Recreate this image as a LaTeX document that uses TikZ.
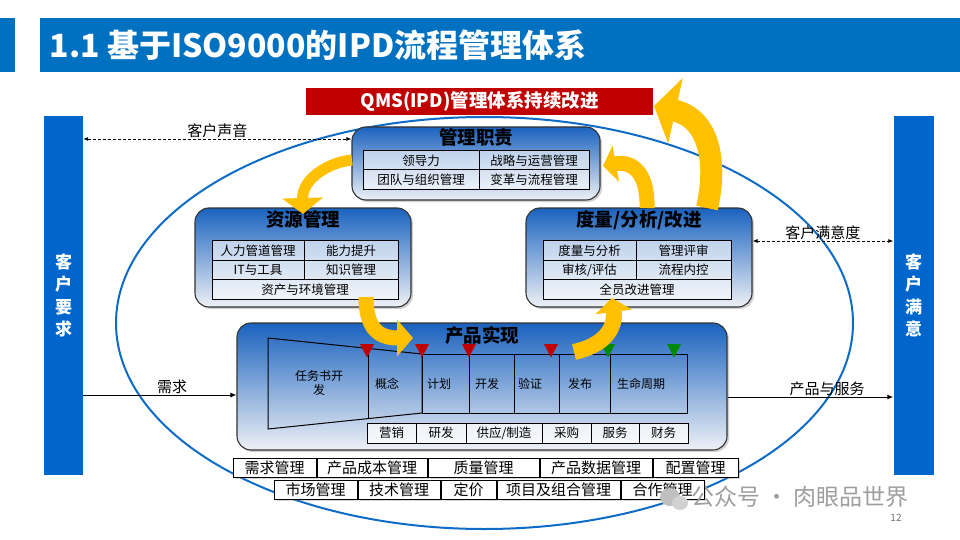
\documentclass[tikz,border=0pt]{standalone}
\usepackage{fontspec}
\setmainfont{Noto Sans CJK SC}
\usepackage{tikz}
\usetikzlibrary{arrows.meta,positioning,shadows}

\definecolor{titleblue}{HTML}{0070C0}
\definecolor{colblue}{HTML}{0066CC}
\definecolor{ringblue}{HTML}{0F6CC6}
\definecolor{boxtop}{HTML}{1A62BE}
\definecolor{boxbot}{HTML}{EEF1F6}
\definecolor{bannerred}{HTML}{C00000}
\definecolor{flowyellow}{HTML}{FFC000}
\definecolor{gatered}{HTML}{C00000}
\definecolor{gategreen}{HTML}{008A00}

\tikzset{
  bluebox/.style={draw=black!80, line width=1.1pt, rounded corners=14pt,
    top color=boxtop, bottom color=boxbot,
    drop shadow={opacity=0.35, shadow xshift=2pt, shadow yshift=-2pt}},
  boxtitle/.style={font=\fontsize{18.5}{20}\selectfont\bfseries},
  cell/.style={draw=black, line width=1pt, fill=white, fill opacity=0.6,
    text opacity=1, inner sep=0pt, minimum height=19.5pt},
  mgmtcell/.style={draw=black, line width=1pt, fill=white, inner sep=0pt,
    minimum height=19pt, font=\fontsize{15}{17}\selectfont,
    drop shadow={opacity=0.3, shadow xshift=1.5pt, shadow yshift=-1.5pt}},
  sidecol/.style={fill=colblue, text=white, align=center, inner sep=0pt,
    minimum width=39pt, minimum height=359pt,
    font=\fontsize{17}{22.5}\selectfont\bfseries},
  infoarrow/.style={line width=0.8pt, dash pattern=on 3pt off 2pt,
    {Latex[length=5pt,width=4pt]}-{Latex[length=5pt,width=4pt]}},
  flowarrow/.style={line width=1pt, -{Latex[length=6pt,width=5pt]}},
  armlabel/.style={font=\fontsize{15}{17}\selectfont, inner sep=1pt},
  yarrow/.style={draw=flowyellow},
  stage/.style={anchor=west, font=\fontsize{12}{14}\selectfont}
}

\begin{document}
\begin{tikzpicture}[x=1pt, y=-1pt, font=\fontsize{12.5}{15}\selectfont]
        \fill[white] (0,0) rectangle (960,540);
        \useasboundingbox (0,0) rectangle (960,540);

        % Title bar
        \node[fill=titleblue, minimum width=15pt, minimum height=54pt,
              inner sep=0pt] (tab) at (7.5,45) {};
        \node[fill=titleblue, minimum width=920pt, minimum height=54pt,
              inner sep=0pt] (titlebar) at (500,45) {};
        \node[anchor=west, text=white, font=\fontsize{32}{36}\selectfont\bfseries]
              (title) at (46,45) {1.1 基于ISO9000的IPD流程管理体系};

        % Banner
        \node[fill=bannerred, text=white, minimum width=347pt, minimum height=27pt,
              inner sep=0pt, font=\fontsize{18.5}{20}\selectfont\bfseries]
              (banner) at (479.5,101.5) {QMS(IPD)管理体系持续改进};

        % Customer columns
        \node[sidecol] (lcol) at (63.5,295.5) {客\\户\\要\\求};
        \node[sidecol, minimum width=40pt] (rcol) at (913.5,295.5) {客\\户\\满\\意};

        % Ring
        \draw[ringblue, line width=2pt] (484.5,323) ellipse [x radius=368.5, y radius=206];

        % Management responsibility
        \node[bluebox, minimum width=248pt, minimum height=73pt] (mgmt) at (476,163.5) {};
        \node[boxtitle, below=-1pt of mgmt.north] (mgmtT) {管理职责};
        \node[cell, minimum width=116pt, minimum height=19pt] (lead) at (421,160.5) {领导力};
        \node[cell, minimum width=110pt, minimum height=19pt] (strat) at (534,160.5) {战略与运营管理};
        \node[cell, minimum width=116pt, minimum height=19pt] (team) at (421,179.5) {团队与组织管理};
        \node[cell, minimum width=110pt, minimum height=19pt] (change) at (534,179.5) {变革与流程管理};

        % Resource management
        \node[bluebox, minimum width=216pt, minimum height=99pt] (res) at (303,257.5) {};
        \node[boxtitle, below=0pt of res.north] (resT) {资源管理};
        \node[cell, minimum width=92pt] (talent) at (258,250.5) {人力管道管理};
        \node[cell, minimum width=94pt] (skill) at (351,250.5) {能力提升};
        \node[cell, minimum width=92pt] (ittool) at (258,270) {IT与工具};
        \node[cell, minimum width=94pt] (know) at (351,270) {知识管理};
        \node[cell, minimum width=186pt] (asset) at (305,289.5) {资产与环境管理};

        % Measurement / analysis / improvement
        \node[bluebox, minimum width=226pt, minimum height=99pt] (meas) at (639,257.5) {};
        \node[boxtitle, below=0pt of meas.north] (measT) {度量/分析/改进};
        \node[cell, minimum width=93pt] (anal) at (589.5,250.5) {度量与分析};
        \node[cell, minimum width=95pt] (review) at (683.5,250.5) {管理评审};
        \node[cell, minimum width=93pt] (audit) at (589.5,270) {审核/评估};
        \node[cell, minimum width=95pt] (ictrl) at (683.5,270) {流程内控};
        \node[cell, minimum width=188pt] (allimp) at (637,289.5) {全员改进管理};

        % Product realisation
        \node[bluebox, minimum width=490pt, minimum height=127pt] (prod) at (482,386.5) {};
        \node[boxtitle, below=0pt of prod.north] (prodT) {产品实现};
        \draw[line width=1pt] (268,338) -- (422,354) -- (422,413) -- (268,429) -- cycle;
        \draw[line width=1pt] (368,348.4) -- (368,418.6);
        \draw[line width=1pt] (422,354) rectangle (687,413);
        \foreach \sx in {469,514,559,610}
            \draw[line width=1pt] (\sx,354) -- (\sx,413);
        \node[align=center, font=\fontsize{12}{14}\selectfont] (task) at (319,383) {任务书开\\发};
        \node[stage] (concept) at (371.7,384) {概念};
        \node[stage] (plan) at (423.7,384) {计划};
        \node[stage] (devel) at (471.7,384) {开发};
        \node[stage] (verify) at (514.7,384) {验证};
        \node[stage] (launch) at (564.7,384) {发布};
        \node[stage] (life) at (613.7,384) {生命周期};
        % Gates
        \foreach \gx/\gc in {367/gatered, 422/gatered, 469/gatered, 551/gatered,
                             608/gategreen, 674/gategreen}
            \fill[\gc] (\gx-7,344) -- (\gx+7,344) -- (\gx,357.5) -- cycle;
        % Functions
        \node[cell, fill opacity=0.7, minimum width=49pt, minimum height=20pt] (mkt) at (391.5,433) {营销};
        \node[cell, fill opacity=0.7, minimum width=50pt, minimum height=20pt] (rnd) at (441,433) {研发};
        \node[cell, fill opacity=0.7, minimum width=76pt, minimum height=20pt] (supply) at (504,433) {供应/制造};
        \node[cell, fill opacity=0.7, minimum width=49pt, minimum height=20pt] (purch) at (566.5,433) {采购};
        \node[cell, fill opacity=0.7, minimum width=48pt, minimum height=20pt] (svc) at (615,433) {服务};
        \node[cell, fill opacity=0.7, minimum width=49pt, minimum height=20pt] (fin) at (663.5,433) {财务};

        % Supporting management
        \foreach \ml/\mr/\mt/\mn in {233/316/需求管理/reqm, 317/427/产品成本管理/costm,
                                     428/539/质量管理/qualm, 540/652/产品数据管理/pdmm,
                                     653/738/配置管理/cfgm}
            \node[mgmtcell, minimum width={\mr-\ml}] (\mn) at ({(\ml+\mr)/2},468) {\mt};
        \foreach \ml/\mr/\mt/\mn in {274/357/市场管理/mktm, 358/440/技术管理/techm,
                                     441/496/定价/price, 497/620/项目及组合管理/projm,
                                     621/704/合作管理/coopm}
            \node[mgmtcell, minimum width={\mr-\ml}] (\mn) at ({(\ml+\mr)/2},489.5) {\mt};

        % Links to customer
        \coordinate (voiceY) at (0,139);
        \coordinate (satY) at (0,241);
        \coordinate (reqY) at (0,395);
        \coordinate (outY) at (0,397);
        \draw[infoarrow] (lcol.east |- voiceY) -- node[armlabel, above] (voice) {客户声音} (mgmt.west |- voiceY);
        \draw[infoarrow] (meas.east |- satY) -- node[armlabel, above] (satis) {客户满意度} (rcol.west |- satY);
        \draw[flowarrow] (lcol.east |- reqY) -- node[armlabel, above, pos=0.58] (demand) {需求} (prod.west |- reqY);
        \draw[flowarrow] (prod.east |- outY) -- node[armlabel, above, pos=0.6] (goods) {产品与服务} (rcol.west |- outY);

        % Improvement cycle
        \draw[yarrow, line width=11pt, -{Triangle[length=16pt,width=40pt]}]
            (352,160) .. controls (330,162) and (302,178) .. (303,214);
        \draw[yarrow, line width=15pt, -{Triangle[length=16pt,width=36pt]}]
            (366,297) .. controls (366,330) and (380,338) .. (413,338);
        \draw[yarrow, line width=16pt, -{Triangle[length=14pt,width=36pt]}]
            (574,352) .. controls (602,346) and (616,330) .. (612,298);
        \draw[yarrow, line width=15pt, -{Triangle[length=13pt,width=36pt]}]
            (647,208) .. controls (648,178) and (636,160) .. (603,166);
        \draw[yarrow, line width=22pt, -{Triangle[length=22pt,width=66pt]}]
            (707,208) .. controls (718,160) and (708,118) .. (654,106);

        % Watermark
        \fill[black!25] (670,497) ellipse [x radius=10, y radius=9];
        \fill[black!18] (680,503) ellipse [x radius=8, y radius=7];
        \node[anchor=west, text=black!38, font=\fontsize{23}{25}\selectfont] (wm) at (688,497) {公众号 · 肉眼品世界};
        \node[text=black!55, font=\fontsize{10}{11}\selectfont, inner sep=1pt] (pgno) at (896,518) {12};
    \end{tikzpicture}
\end{document}
